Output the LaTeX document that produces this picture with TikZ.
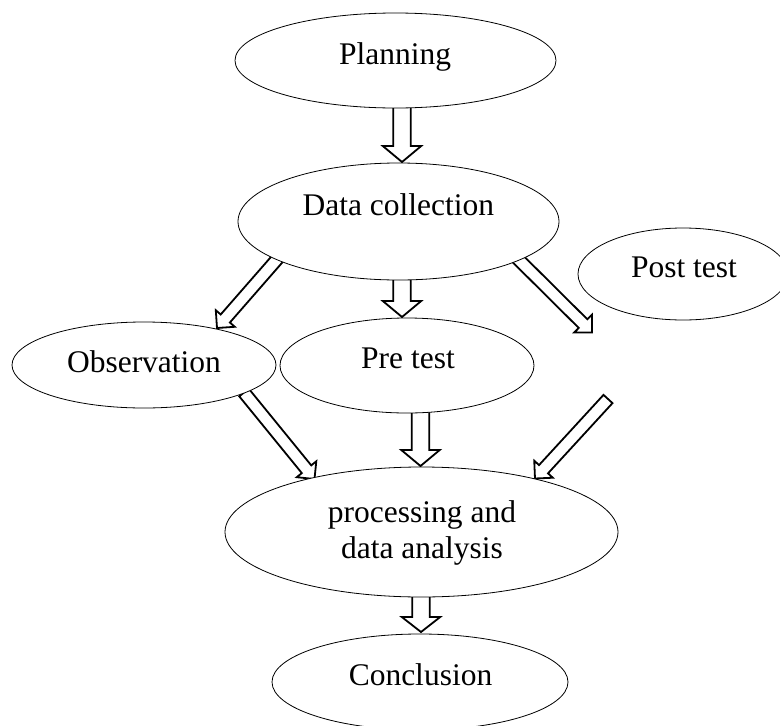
\documentclass[tikz,border=0pt]{standalone}
\usepackage{fontspec}
\setmainfont{Liberation Serif}
\usetikzlibrary{shapes.geometric,calc,backgrounds}
\newcommand\blockarrow[5]{%
  \draw[blk] ($(#1)!#3pt!90:(#2)$)
    -- ($($(#2)!#5pt!(#1)$)!#3pt!90:(#2)$)
    -- ($($(#2)!#5pt!(#1)$)!#4pt!90:(#2)$)
    -- (#2)
    -- ($($(#2)!#5pt!(#1)$)!#4pt!-90:(#2)$)
    -- ($($(#2)!#5pt!(#1)$)!#3pt!-90:(#2)$)
    -- ($(#1)!#3pt!-90:(#2)$) -- cycle;}
\begin{document}
\begin{tikzpicture}[x=1pt,y=-1pt,
  ell/.style={ellipse, draw, fill=white, line width=0.8pt, inner sep=0pt},
  txt/.style={anchor=base, inner sep=0pt, font=\fontsize{31.5}{36}\selectfont},
  blk/.style={draw, fill=white, line width=1.8pt, line join=miter}]
\clip (0,0) rectangle (780,726);
% ellipses
\node[ell, minimum width=321pt, minimum height=95pt]  (plan) at (395.5,60.5) {};
\node[ell, minimum width=321pt, minimum height=117pt] (dc)   at (398.5,221.5) {};
\node[ell, minimum width=210pt, minimum height=92pt]  (post) at (683,274) {};
\node[ell, minimum width=264pt, minimum height=86pt]  (obs)  at (144,365) {};
\node[ell, minimum width=254pt, minimum height=95pt]  (pre)  at (407,365.5) {};
\node[ell, minimum width=393pt, minimum height=130pt] (proc) at (421.5,532) {};
\node[ell, minimum width=296pt, minimum height=96pt]  (conc) at (420,682) {};
% texts
\node[txt] (planT) at (395,64.3) {Planning};
\node[txt] (dcT)   at (398.3,215) {Data collection};
\node[txt] (postT) at (684,277.7) {Post test};
\node[txt] (obsT)  at (144,372) {Observation};
\node[txt] (preT)  at (408,368) {Pre test};
\node[txt] (procT1) at (422,522) {processing and};
\node[txt] (procT2) at (422,558) {data analysis};
\node[txt] (concT) at (420.5,685) {Conclusion};
% arrow end points
\coordinate (a1s) at (402,104);   \coordinate (a1e) at (402,162);
\coordinate (a2s) at (402,278);   \coordinate (a2e) at (402,317);
\coordinate (a3s) at (279,257);   \coordinate (a3e) at (217,328);
\coordinate (a4s) at (516,257);   \coordinate (freeA) at (592,332.5);
\coordinate (a5s) at (244,392.5); \coordinate (a5e) at (314.5,479);
\coordinate (a6s) at (420.5,410); \coordinate (a6e) at (420.5,466);
\coordinate (freeB) at (608,399); \coordinate (a7e) at (535,478.5);
\coordinate (a8s) at (421,594);   \coordinate (a8e) at (421,632);
\begin{pgfonlayer}{background}
\blockarrow{a1s}{a1e}{8.8}{19.2}{16}
\blockarrow{a2s}{a2e}{8.8}{19.2}{16}
\blockarrow{a3s}{a3e}{6.1}{12.6}{12.6}
\blockarrow{a4s}{freeA}{6.1}{12.6}{12.6}
\blockarrow{a5s}{a5e}{6.1}{12.6}{12.6}
\blockarrow{a6s}{a6e}{8.8}{19.2}{16}
\blockarrow{freeB}{a7e}{6.1}{12.6}{12.6}
\blockarrow{a8s}{a8e}{8.8}{19.2}{15}
\end{pgfonlayer}
\end{tikzpicture}
\end{document}
